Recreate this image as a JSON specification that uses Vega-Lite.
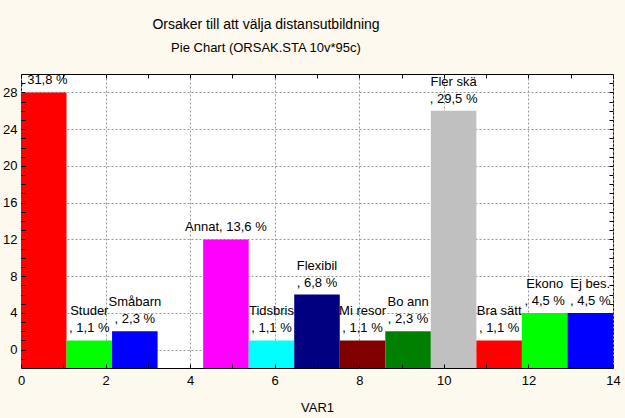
{
  "$schema": "https://vega.github.io/schema/vega-lite/v6.json",
  "width": 592,
  "height": 294,
  "autosize": {"type": "none"},
  "padding": {"left": 21, "top": 74, "right": 12, "bottom": 50},
  "background": "#FDF9EE",
  "title": {
    "text": "Orsaker till att välja distansutbildning",
    "subtitle": "Pie Chart (ORSAK.STA 10v*95c)",
    "anchor": "middle",
    "dx": -51,
    "offset": 19,
    "font": "Liberation Sans",
    "fontSize": 14,
    "fontWeight": "normal",
    "color": "#000000",
    "subtitleFont": "Liberation Sans",
    "subtitleFontSize": 13,
    "subtitleColor": "#000000",
    "subtitlePadding": 10
  },
  "config": {
    "view": {"fill": "white", "stroke": "black", "strokeWidth": 1},
    "font": "Liberation Sans"
  },
  "data": {
    "values": [
      {"bar": 1, "x0": 0, "x1": 1.0769, "mid": 0.5385, "count": 28, "name": null, "pct": ", 31,8 %"},
      {"bar": 2, "x0": 1.0769, "x1": 2.1538, "mid": 1.6154, "count": 1, "name": "Studer", "pct": ", 1,1 %"},
      {"bar": 3, "x0": 2.1538, "x1": 3.2308, "mid": 2.6923, "count": 2, "name": "Småbarn", "pct": ", 2,3 %"},
      {"bar": 4, "x0": 3.2308, "x1": 4.3077, "mid": 3.7692, "count": 0, "name": null, "pct": null},
      {"bar": 5, "x0": 4.3077, "x1": 5.3846, "mid": 4.8462, "count": 12, "name": null, "pct": "Annat, 13,6 %"},
      {"bar": 6, "x0": 5.3846, "x1": 6.4615, "mid": 5.9231, "count": 1, "name": "Tidsbris", "pct": ", 1,1 %"},
      {"bar": 7, "x0": 6.4615, "x1": 7.5385, "mid": 7.0, "count": 6, "name": "Flexibil", "pct": ", 6,8 %"},
      {"bar": 8, "x0": 7.5385, "x1": 8.6154, "mid": 8.0769, "count": 1, "name": "Mi resor", "pct": ", 1,1 %"},
      {"bar": 9, "x0": 8.6154, "x1": 9.6923, "mid": 9.1538, "count": 2, "name": "Bo ann", "pct": ", 2,3 %"},
      {"bar": 10, "x0": 9.6923, "x1": 10.7692, "mid": 10.2308, "count": 26, "name": "Fler skä", "pct": ", 29,5 %"},
      {"bar": 11, "x0": 10.7692, "x1": 11.8462, "mid": 11.3077, "count": 1, "name": "Bra sätt", "pct": ", 1,1 %"},
      {"bar": 12, "x0": 11.8462, "x1": 12.9231, "mid": 12.3846, "count": 4, "name": "Ekono", "pct": ", 4,5 %"},
      {"bar": 13, "x0": 12.9231, "x1": 14, "mid": 13.4615, "count": 4, "name": "Ej bes.", "pct": ", 4,5 %"}
    ]
  },
  "layer": [
    {
      "transform": [{"filter": "datum.pct != null"}],
      "mark": {"type": "text", "clip": true, "fontSize": 13, "baseline": "alphabetic", "align": "center", "dy": -8, "color": "#000000"},
      "encoding": {
        "x": {
          "field": "mid", "type": "quantitative",
          "scale": {"domain": [0, 14], "nice": false, "zero": false},
          "axis": {
            "orient": "bottom",
            "values": [0,1,2,3,4,5,6,7,8,9,10,11,12,13,14],
            "labelExpr": "datum.value % 2 === 0 ? datum.label : ''",
            "grid": false, "domain": false, "tickSize": -4, "tickColor": "#000000",
            "labelFontSize": 13, "labelColor": "#000000", "labelPadding": 10, "labelFlush": false,
            "title": "VAR1", "titleFontSize": 13, "titleFontWeight": "normal", "titleColor": "#000000", "titlePadding": 14,
            "zindex": 1
          }
        },
        "y": {
          "field": "count", "type": "quantitative",
          "scale": {"domain": [-2, 30], "nice": false, "zero": false},
          "axis": {
            "orient": "left",
            "values": [-1,0,1,2,3,4,5,6,7,8,9,10,11,12,13,14,15,16,17,18,19,20,21,22,23,24,25,26,27,28,29],
            "labelExpr": "datum.value >= 0 && datum.value % 4 === 0 ? datum.label : ''",
            "grid": false, "domain": false, "tickSize": -4, "tickColor": "#000000",
            "labelFontSize": 13, "labelColor": "#000000", "labelPadding": 8, "labelFlush": false,
            "title": null,
            "zindex": 1
          }
        },
        "text": {"field": "pct", "type": "nominal"}
      }
    },
    {
      "transform": [{"filter": "datum.name != null"}],
      "mark": {"type": "text", "clip": true, "fontSize": 13, "baseline": "alphabetic", "align": "center", "dy": -25, "color": "#000000"},
      "encoding": {
        "x": {"field": "mid", "type": "quantitative", "axis": null},
        "y": {"field": "count", "type": "quantitative", "axis": null},
        "text": {"field": "name", "type": "nominal"}
      }
    },
    {
      "transform": [{"filter": "datum.count > 0"}],
      "mark": {"type": "bar"},
      "encoding": {
        "x": {
          "field": "x0", "type": "quantitative",
          "axis": {
            "orient": "top",
            "values": [0,1,2,3,4,5,6,7,8,9,10,11,12,13,14],
            "labels": false, "domain": false, "tickSize": -4, "tickColor": "#000000",
            "grid": true,
            "gridColor": "#999999", "gridDash": [2, 2], "gridWidth": 1,
            "gridOpacity": {"condition": {"test": "datum.value % 2 === 0", "value": 1}, "value": 0},
            "title": null
          }
        },
        "x2": {"field": "x1"},
        "y": {
          "field": "count", "type": "quantitative",
          "axis": {
            "orient": "right",
            "values": [-1,0,1,2,3,4,5,6,7,8,9,10,11,12,13,14,15,16,17,18,19,20,21,22,23,24,25,26,27,28,29],
            "labels": false, "domain": false, "tickSize": -4, "tickColor": "#000000",
            "grid": true,
            "gridColor": "#999999", "gridDash": [2, 2], "gridWidth": 1,
            "gridOpacity": {"condition": {"test": "datum.value >= 0 && datum.value % 4 === 0", "value": 1}, "value": 0},
            "title": null
          }
        },
        "y2": {"datum": -2},
        "color": {
          "field": "bar", "type": "nominal",
          "scale": {
            "domain": [1,2,3,4,5,6,7,8,9,10,11,12,13],
            "range": ["#FF0000","#00FF00","#0000FF","#FFFFFF","#FF00FF","#00FFFF","#000080","#800000","#008000","#C0C0C0","#FF0000","#00FF00","#0000FF"]
          },
          "legend": null
        }
      }
    }
  ],
  "resolve": {"axis": {"x": "independent", "y": "independent"}}
}
